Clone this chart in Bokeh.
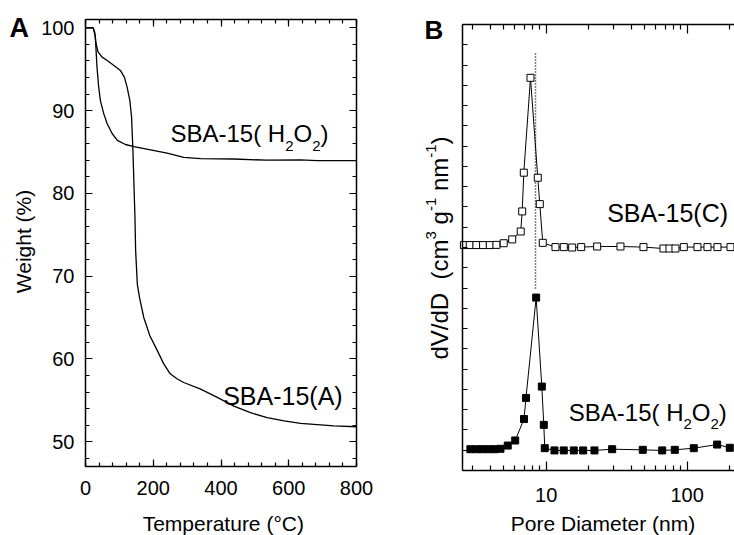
import math
from bokeh.plotting import figure
from bokeh.models import (LinearAxis, LogAxis, FixedTicker, Label,
                          CustomJSTickFormatter, PrintfTickFormatter)
from bokeh.layouts import row
from bokeh.embed import file_html
from bokeh.resources import INLINE

# ---------------- data: panel A (TGA) ----------------
temp_A = [0, 22, 27, 31, 37, 49, 64, 84, 103, 115, 123, 131, 136, 140, 143, 146, 148,
          153, 160, 172, 190, 212, 231, 250, 270, 290, 340, 389, 438, 487, 536, 586,
          635, 684, 733, 800]
weight_A = [100, 100, 99.5, 98.1, 97.1, 96.45, 96.05, 95.45, 94.85, 94.0, 92.8, 91.2,
            89.2, 85.2, 81.1, 77.1, 73.1, 69.0, 67.3, 65.0, 62.8, 61.0, 59.4, 58.2,
            57.6, 57.15, 56.35, 55.35, 54.3, 53.5, 52.9, 52.5, 52.2, 52.05, 51.9, 51.8]
temp_H2O2 = [0, 23, 29, 34, 39, 44, 54, 64, 79, 94, 118, 143, 192, 241, 290, 340, 438,
             536, 635, 684, 800]
weight_H2O2 = [100, 100, 98.9, 95.2, 92.8, 91.2, 89.6, 88.4, 87.2, 86.4, 85.9, 85.65,
               85.25, 84.85, 84.35, 84.2, 84.15, 84.0, 84.05, 83.95, 83.95]
xticks_A = [0, 200, 400, 600, 800]
xminor_A = list(range(0, 801, 40))
yticks_A = [50, 60, 70, 80, 90, 100]
yminor_A = list(range(48, 101, 2))

# ---------------- data: panel B (pore size distribution) ----------------
pore_C = [2.61, 2.87, 3.20, 3.57, 3.98, 4.44, 5.00, 5.74, 6.60, 6.76, 6.94, 7.74, 8.72,
          9.01, 9.46, 11.64, 13.33, 15.29, 17.71, 22.99, 33.65, 48.98, 67.9, 74.9,
          82.6, 94.6, 118.3, 139.3, 164.0, 202.8]
dvdd_C = [11.12, 11.12, 11.12, 11.12, 11.12, 11.13, 11.21, 11.40, 11.79, 12.78, 14.69,
          19.37, 14.44, 13.14, 11.23, 11.02, 11.02, 11.00, 11.02, 11.05, 11.05, 11.02,
          10.95, 10.95, 10.95, 11.02, 11.02, 11.02, 11.02, 11.02]
pore_H2O2 = [2.90, 3.20, 3.53, 3.90, 4.30, 4.74, 5.34, 6.03, 6.96, 7.19, 8.49, 9.31,
             9.62, 9.77, 11.45, 13.33, 15.70, 18.30, 22.00, 29.38, 48.43, 66.48, 81.70,
             111.4, 163.2, 200.5]
dvdd_H2O2 = [1.05, 1.05, 1.05, 1.05, 1.05, 1.07, 1.23, 1.48, 2.54, 3.58, 8.53, 4.14,
             2.25, 1.10, 0.99, 0.99, 0.99, 0.99, 0.99, 1.05, 1.02, 0.99, 1.02, 1.10,
             1.28, 1.12]
peak_d = [8.4, 8.4]
peak_y = [20.57, 8.88]
xticks_B = [10, 100]
xticklabels_B = ["10", "100"]
xminor_B = [3, 4, 5, 6, 7, 8, 9, 20, 30, 40, 50, 60, 70, 80, 90, 200]
yticks_B = list(range(0, 23))

# ---------------- styling / geometry ----------------
FONT = "Liberation Sans"
H = 535
ARIAL = {'S': .667, 'B': .667, 'A': .667, '-': .333, '1': .556, '5': .556, '(': .333,
         ')': .333, ' ': .278, 'H': .722, 'O': .778, '2': .556, 'C': .722, 'd': .556,
         'V': .667, '/': .278, 'D': .722, 'c': .5, 'm': .833, '3': .556, 'g': .556,
         'n': .556}


def tw(s, size):
    return sum(ARIAL[c] for c in s) * size


# panel A: canvas 0..400, axes box in canvas px
WA = 400
A_L, A_R, A_T, A_B = 85, 356, 19, 466
XA = (0, 800)
YA = (47, 101)
kxA = (A_R - A_L) / (XA[1] - XA[0])
kyA = (A_B - A_T) / (YA[1] - YA[0])
xrA = (XA[0] - A_L / kxA, XA[1] + (WA - A_R) / kxA)
yrA = (YA[0] - (H - A_B) / kyA, YA[1] + A_T / kyA)

# panel B: canvas 400..734 (absolute px), axes box
B0, WB = 400, 334
B_L, B_R, B_T, B_B = 462, 734, 24, 470
XB = (2.55, 216.6)
YB = (0, 22)
lxB = (math.log10(XB[0]), math.log10(XB[1]))
kxB = (B_R - B_L) / (lxB[1] - lxB[0])
kyB = (B_B - B_T) / (YB[1] - YB[0])
xrB = (10 ** (lxB[0] - (B_L - B0) / kxB), 10 ** (lxB[1] + (B0 + WB - B_R) / kxB))
yrB = (YB[0] - (H - B_B) / kyB, YB[1] + B_T / kyB)


def a_x(px):
    return XA[0] + (px - A_L) / kxA


def a_y(py):
    return YA[1] - (py - A_T) / kyA


def b_x(px):
    return 10 ** (lxB[0] + (px - B_L) / kxB)


def b_y(py):
    return YB[1] - (py - B_T) / kyB


BLANK = CustomJSTickFormatter(code="return ''")


def make_axis(cls, ticks, minor, loc, bounds, major_in, minor_in, show_labels, standoff=10,
              formatter=None):
    ax = cls(ticker=FixedTicker(ticks=ticks, minor_ticks=minor))
    ax.fixed_location = loc
    ax.bounds = bounds
    ax.axis_line_width = 1.5
    ax.axis_line_color = "black"
    ax.major_tick_in = major_in
    ax.major_tick_out = 0
    ax.minor_tick_in = minor_in
    ax.minor_tick_out = 0
    ax.major_tick_line_width = 1.2
    ax.minor_tick_line_width = 1.2
    ax.major_tick_line_color = "black"
    ax.minor_tick_line_color = "black"
    ax.major_label_text_font = FONT
    ax.major_label_text_color = "black"
    ax.major_label_text_font_size = "20px"
    ax.major_label_standoff = standoff
    if not show_labels:
        ax.formatter = BLANK
        ax.major_label_standoff = 0
    elif formatter is not None:
        ax.formatter = formatter
    return ax


def add_pieces(p, pieces, start, center, cx, cy, vertical=False):
    cur = start
    for text, size, shift, bold in pieces:
        t = text.strip()
        if t:
            if vertical:
                lab = Label(x=cx(center + shift), y=cy(cur), text=t, angle=math.pi / 2)
            else:
                lab = Label(x=cx(cur), y=cy(center + shift), text=t)
            lab.text_font = FONT
            lab.text_font_size = f"{size}px"
            lab.text_font_style = "bold" if bold else "normal"
            lab.text_align = "left"
            lab.text_baseline = "middle"
            lab.text_color = "black"
            p.add_layout(lab)
        if vertical:
            cur -= tw(text, size)
        else:
            cur += tw(text, size)


def center_label(p, text, x, y, size, angle=0.0):
    lab = Label(x=x, y=y, text=text, angle=angle, text_font=FONT,
                text_font_size=f"{size}px", text_align="center",
                text_baseline="middle", text_color="black")
    p.add_layout(lab)


def base_fig(width, x_range, y_range, **kw):
    p = figure(width=width, height=H, x_range=x_range, y_range=y_range,
               output_backend="svg", toolbar_location=None,
               x_axis_location=None, y_axis_location=None,
               min_border=0, min_border_left=0, min_border_right=0,
               min_border_top=0, min_border_bottom=0, **kw)
    p.outline_line_color = None
    p.grid.visible = False
    p.background_fill_color = "white"
    p.border_fill_color = "white"
    return p


# ---------------- panel A ----------------
pA = base_fig(WA, xrA, yrA)
pA.add_layout(make_axis(LinearAxis, xticks_A, xminor_A, YA[0], XA, 7, 4, True, 14), "below")
pA.add_layout(make_axis(LinearAxis, xticks_A, xminor_A, YA[1], XA, 7, 4, False), "above")
pA.add_layout(make_axis(LinearAxis, yticks_A, yminor_A, XA[0], YA, 7, 4, True, 11), "left")
pA.add_layout(make_axis(LinearAxis, yticks_A, yminor_A, XA[1], YA, 7, 4, False), "right")

pA.line(temp_A, weight_A, line_color="black", line_width=1.3)
pA.line(temp_H2O2, weight_H2O2, line_color="black", line_width=1.3)

add_pieces(pA, [("SBA-15(", 24, 0, False), (" ", 24, 0, False), ("H", 24, 0, False),
                ("2", 15, 11.7, False), ("O", 24, 0, False), ("2", 15, 11.7, False),
                (")", 24, 0, False)], 170, 133.3, a_x, a_y)
add_pieces(pA, [("SBA-15(A)", 25, 0, False)], 222.7, 395.3, a_x, a_y)
add_pieces(pA, [("A", 27, 0, True)], 9, 27, a_x, a_y)
center_label(pA, "Temperature (°C)", a_x(222.8), a_y(522.5), 21)
center_label(pA, "Weight (%)", a_x(22.5), a_y(241), 21, math.pi / 2)

# ---------------- panel B ----------------
pB = base_fig(WB, xrB, yrB, x_axis_type="log")
bx = make_axis(LogAxis, xticks_B, xminor_B, YB[0], XB, 9, 5, True, 17,
               PrintfTickFormatter(format="%d"))
bx.major_label_overrides = dict(zip(xticks_B, xticklabels_B))
pB.add_layout(bx, "below")
pB.add_layout(make_axis(LogAxis, xticks_B, xminor_B, YB[1], XB, 9, 5, False), "above")
pB.add_layout(make_axis(LinearAxis, yticks_B, [], XB[0], YB, 5, 0, False), "left")

pB.line(peak_d, peak_y, line_color="black", line_width=1.5, line_dash="1 2")
pB.line(pore_C, dvdd_C, line_color="black", line_width=1)
pB.line(pore_H2O2, dvdd_H2O2, line_color="black", line_width=1)
pB.scatter(pore_C, dvdd_C, marker="square", size=7, fill_color="white",
           line_color="black", line_width=1)
pB.scatter(pore_H2O2, dvdd_H2O2, marker="square", size=7, fill_color="black",
           line_color="black", line_width=1)

add_pieces(pB, [("SBA-15(C)", 25, 0, False)], 606.7, 212.5, b_x, b_y)
add_pieces(pB, [("SBA-15(", 24, 0, False), (" ", 24, 0, False), ("H", 24, 0, False),
                ("2", 15, 11.7, False), ("O", 24, 0, False), ("2", 15, 11.7, False),
                (")", 24, 0, False)], 568.3, 411.7, b_x, b_y)
add_pieces(pB, [("B", 26, 0, True)], 424, 29.5, b_x, b_y)
center_label(pB, "Pore Diameter (nm)", b_x(602.5), b_y(522.5), 21)
add_pieces(pB, [("dV/dD", 24, 0, False), ("  ", 24, 0, False), ("(cm", 24, 0, False),
                ("3", 15, -8.5, False), (" ", 24, 0, False), ("g", 24, 0, False),
                ("-1", 15, -8.5, False), (" ", 24, 0, False), ("nm", 24, 0, False),
                ("-1", 15, -8.5, False), (")", 24, 0, False)],
           359, 438.5, b_x, b_y, vertical=True)

layout = row(pA, pB)
open("out.html", "w").write(file_html(layout, INLINE))
